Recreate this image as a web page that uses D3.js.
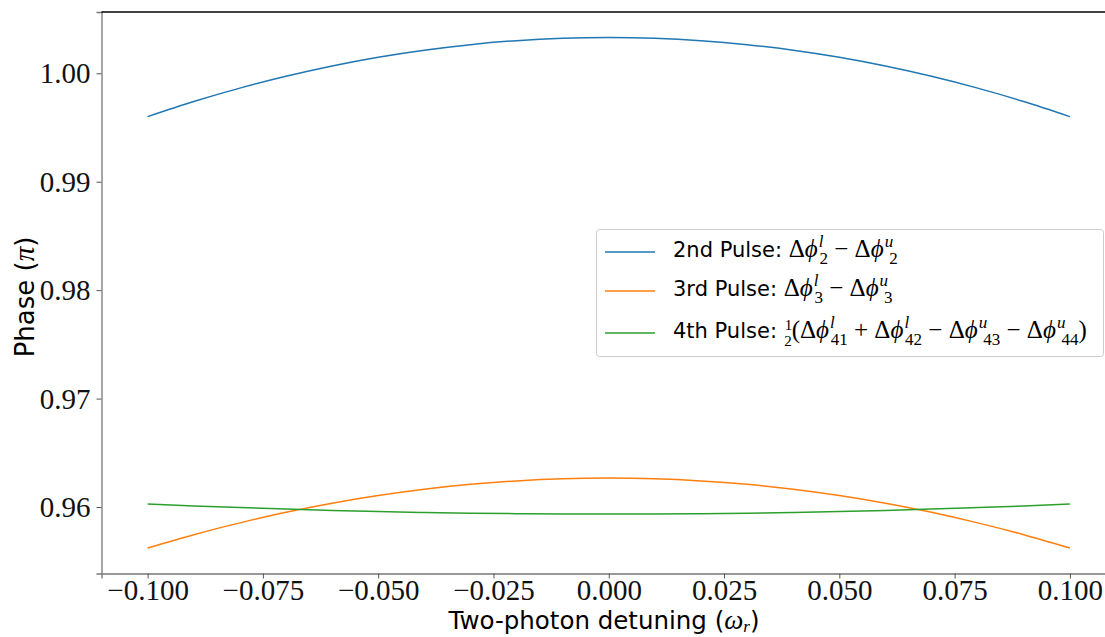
<!DOCTYPE html>
<html>
<head>
<meta charset="utf-8">
<script src="https://cdn.jsdelivr.net/npm/d3@7"></script>
<style>
  body { margin: 0; background: #fff; }
  svg { display: block; }
</style>
</head>
<body>
<svg width="1105" height="637"></svg>
<script>
// detuning values (omega_r)
var detuning = [-0.10, -0.09, -0.08, -0.07, -0.06, -0.05, -0.04, -0.03, -0.02, -0.01, 0.00,
                0.01, 0.02, 0.03, 0.04, 0.05, 0.06, 0.07, 0.08, 0.09, 0.10];

// phase (pi)
var pulse2 = [0.99600, 0.99739, 0.99863, 0.99972, 1.00067, 1.00148, 1.00213, 1.00264, 1.00301, 1.00323, 1.00330,
              1.00323, 1.00301, 1.00264, 1.00213, 1.00148, 1.00067, 0.99972, 0.99863, 0.99739, 0.99600];
var pulse3 = [0.95622, 0.95745, 0.95854, 0.95951, 0.96035, 0.96106, 0.96164, 0.96209, 0.96241, 0.96261, 0.96267,
              0.96261, 0.96241, 0.96209, 0.96164, 0.96106, 0.96035, 0.95951, 0.95854, 0.95745, 0.95622];
var pulse4 = [0.96028, 0.96010, 0.95995, 0.95981, 0.95968, 0.95958, 0.95950, 0.95943, 0.95939, 0.95936, 0.95935,
              0.95936, 0.95939, 0.95943, 0.95950, 0.95958, 0.95968, 0.95981, 0.95995, 0.96010, 0.96028];

var xTicks = [-0.100, -0.075, -0.050, -0.025, 0.000, 0.025, 0.050, 0.075, 0.100];
var yTicks = [0.96, 0.97, 0.98, 0.99, 1.00];

var colors = ["#1f77b4", "#ff7f0e", "#2ca02c"];

var svg = d3.select("svg"),
    width = +svg.attr("width"),
    height = +svg.attr("height");

// plot box (right edge falls outside the picture)
var plotL = 101.5, plotR = 1116, plotT = 12, plotB = 573.5;

var x = d3.scaleLinear().domain([-0.11, 0.11]).range([plotL, plotR]);
var y = d3.scaleLinear().domain([0.95387, 1.00565]).range([plotB, plotT]);

var serif = "'Liberation Serif', 'DejaVu Serif', serif";
var sans = "'DejaVu Sans', sans-serif";

// minus sign like LaTeX
function fmt(d, p) {
  return d.toFixed(p).replace("-", "\u2212");
}

// axes
var gx = svg.append("g")
    .attr("transform", "translate(0," + plotB + ")")
    .call(d3.axisBottom(x).tickValues(xTicks).tickSize(5).tickPadding(3).tickFormat(function(d){ return fmt(d, 3); }));
var gy = svg.append("g")
    .attr("transform", "translate(" + plotL + ",0)")
    .call(d3.axisLeft(y).tickValues(yTicks).tickSize(5).tickPadding(6).tickFormat(function(d){ return fmt(d, 2); }));

[gx, gy].forEach(function(g){
  g.select(".domain").attr("stroke", "#777").attr("stroke-width", 1.3);
  g.selectAll(".tick line").attr("stroke", "#555").attr("stroke-width", 1);
  g.selectAll(".tick text")
    .attr("fill", "#111")
    .style("font-family", serif)
    .style("font-size", "29px");
});
gx.selectAll(".tick text").attr("dy", "0.64em");
gy.selectAll(".tick text").attr("dy", "0.33em");

// top spine
svg.append("line")
    .attr("x1", plotL).attr("x2", plotR)
    .attr("y1", plotT).attr("y2", plotT)
    .attr("stroke", "#000").attr("stroke-width", 1.3);

// lines
var series = [pulse2, pulse3, pulse4];
var line = d3.line()
    .x(function(d){ return x(d[0]); })
    .y(function(d){ return y(d[1]); })
    .curve(d3.curveNatural);

series.forEach(function(s, i){
  svg.append("path")
      .datum(detuning.map(function(v, j){ return [v, s[j]]; }))
      .attr("d", line)
      .attr("fill", "none")
      .attr("stroke", colors[i])
      .attr("stroke-width", 1.5);
});

// axis labels
svg.append("text")
    .attr("x", 604)
    .attr("y", 629)
    .attr("text-anchor", "middle")
    .style("font-family", sans)
    .style("font-size", "24.5px")
    .selectAll("tspan")
    .data([["Two-photon detuning (", sans, "normal", 0, null],
           ["\u03c9", serif, "italic", 0, "27px"],
           ["r", serif, "italic", 3, "17px"],
           [")", sans, "normal", -3, null]])
    .enter().append("tspan")
    .text(function(d){ return d[0]; })
    .style("font-family", function(d){ return d[1]; })
    .style("font-style", function(d){ return d[2]; })
    .style("font-size", function(d){ return d[4]; })
    .attr("dy", function(d){ return d[3]; });

svg.append("text")
    .attr("transform", "translate(34,297) rotate(-90)")
    .attr("text-anchor", "middle")
    .style("font-family", sans)
    .style("font-size", "26px")
    .selectAll("tspan")
    .data([["Phase (", sans, "normal", null], ["\u03c0", serif, "italic", "29px"], [")", sans, "normal", null]])
    .enter().append("tspan")
    .text(function(d){ return d[0]; })
    .style("font-family", function(d){ return d[1]; })
    .style("font-style", function(d){ return d[2]; })
    .style("font-size", function(d){ return d[3]; });

// legend
var legendLabels = [
  [["2nd Pulse: ", "s"], ["\u0394", "r"], ["\u03d5", "m"], ["l", "sup"], ["2", "sub"], [" \u2212 ", "r"], ["\u0394", "r"], ["\u03d5", "m"], ["u", "sup"], ["2", "sub"]],
  [["3rd Pulse: ", "s"], ["\u0394", "r"], ["\u03d5", "m"], ["l", "sup"], ["3", "sub"], [" \u2212 ", "r"], ["\u0394", "r"], ["\u03d5", "m"], ["u", "sup"], ["3", "sub"]],
  [["4th Pulse: ", "s"], ["1", "num"], ["2", "den"], ["(\u0394", "r"], ["\u03d5", "m"], ["l", "sup"], ["41", "sub"], [" + \u0394", "r"], ["\u03d5", "m"], ["l", "sup"], ["42", "sub"],
   [" \u2212 \u0394", "r"], ["\u03d5", "m"], ["u", "sup"], ["43", "sub"], [" \u2212 \u0394", "r"], ["\u03d5", "m"], ["u", "sup"], ["44", "sub"], [")", "r"]]
];

var lg = svg.append("g").attr("transform", "translate(596,229)");
lg.append("rect")
    .attr("x", 0.5).attr("y", 0.5)
    .attr("width", 507).attr("height", 127)
    .attr("rx", 3)
    .attr("fill", "#fff").attr("fill-opacity", 0.8)
    .attr("stroke", "#ccc");

var rowY = [23, 62, 104];
legendLabels.forEach(function(segs, i){
  lg.append("line")
      .attr("x1", 9).attr("x2", 59)
      .attr("y1", rowY[i]).attr("y2", rowY[i])
      .attr("stroke", colors[i]).attr("stroke-width", 1.5);

  var t = lg.append("text")
      .attr("x", 77).attr("y", rowY[i] + 5)
      .style("font-size", "21px")
      .style("font-family", sans)
      .attr("fill", "#000");

  var base = 0; // current baseline shift
  segs.forEach(function(s){
    var ts = t.append("tspan").text(s[0]);
    var shift = 0, dx = 0;
    if (s[1] === "s") {
      ts.style("font-family", sans);
    } else if (s[1] === "r") {
      ts.style("font-family", serif).style("font-size", "25px");
    } else if (s[1] === "m") {
      ts.style("font-family", serif).style("font-style", "italic").style("font-size", "25px");
    } else if (s[1] === "sup") {
      ts.style("font-family", serif).style("font-style", "italic").style("font-size", "17px");
      shift = -10; dx = 1;
    } else if (s[1] === "sub") {
      ts.style("font-family", serif).style("font-size", "17px");
      shift = 7; dx = -4;
    } else if (s[1] === "num") {
      ts.style("font-family", serif).style("font-size", "15px");
      shift = -8; dx = 1;
    } else if (s[1] === "den") {
      ts.style("font-family", serif).style("font-size", "15px");
      shift = 8; dx = -8;
    }
    ts.attr("dy", shift - base).attr("dx", dx);
    base = shift;
  });
});
</script>
</body>
</html>
